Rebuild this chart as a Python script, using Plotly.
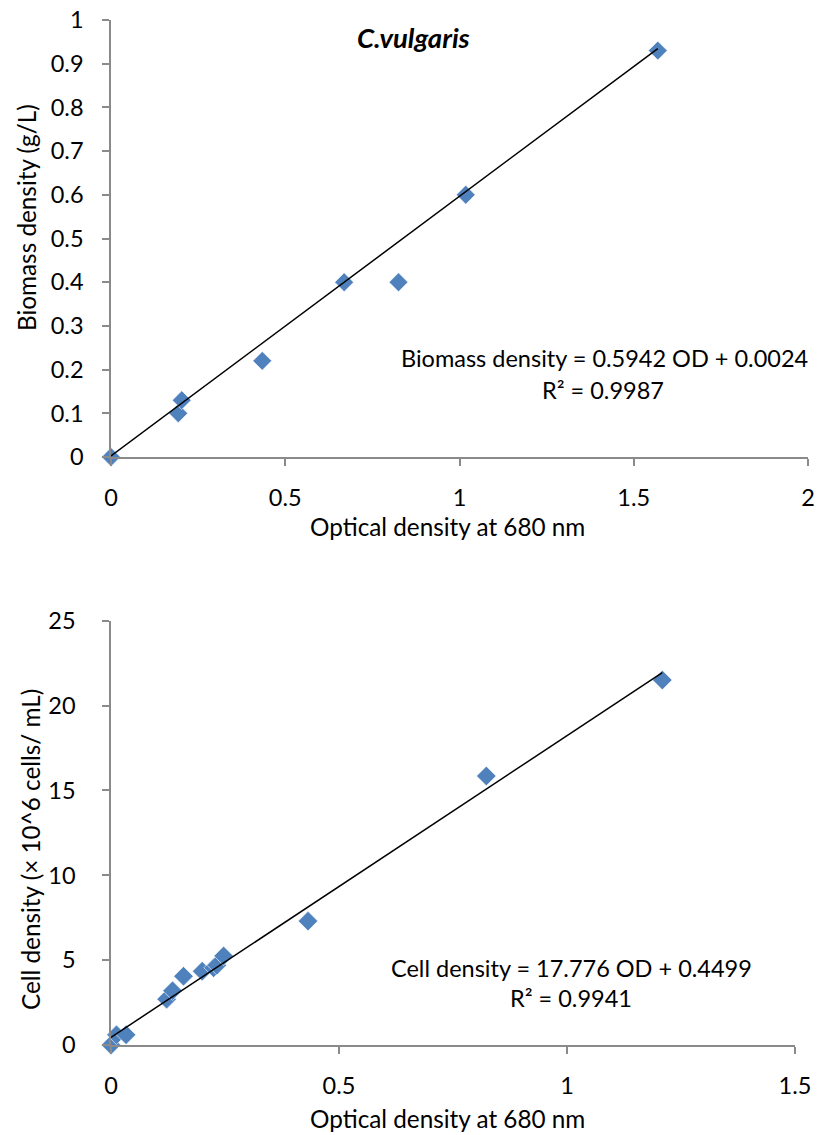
import plotly.graph_objects as go

# Biomass calibration (top panel)
od_biomass = [0, 0.193, 0.203, 0.434, 0.669, 0.825, 1.018, 1.569]
biomass = [0, 0.10, 0.13, 0.22, 0.40, 0.40, 0.60, 0.93]
biomass_slope, biomass_intercept = 0.5942, 0.0024
biomass_r2 = 0.9987

# Cell count calibration (bottom panel)
od_cells = [0, 0.012, 0.033, 0.122, 0.135, 0.159, 0.200, 0.225, 0.232, 0.247, 0.432, 0.823, 1.209]
cells = [0, 0.6, 0.6, 2.7, 3.2, 4.05, 4.35, 4.55, 4.7, 5.25, 7.3, 15.85, 21.5]
cells_slope, cells_intercept = 17.776, 0.4499
cells_r2 = 0.9941

W, H = 817, 1135
FONT = "Lato"
MARKER = "#4F81BD"
AXIS = "#8a8a8a"


def px(x):
    return x / W


def py(y):
    return 1 - y / H


fig = go.Figure()

# data points
fig.add_trace(go.Scatter(x=od_biomass, y=biomass, mode="markers",
                         marker=dict(symbol="diamond", size=14.5, color=MARKER,
                                     line=dict(width=0.6, color="white")),
                         cliponaxis=False, xaxis="x", yaxis="y"))
fig.add_trace(go.Scatter(x=od_cells, y=cells, mode="markers",
                         marker=dict(symbol="diamond", size=15, color=MARKER,
                                     line=dict(width=0.6, color="white")),
                         cliponaxis=False, xaxis="x2", yaxis="y2"))

# linear trendlines over the data range
bx = [min(od_biomass), max(od_biomass)]
fig.add_trace(go.Scatter(x=bx, y=[biomass_slope * v + biomass_intercept for v in bx],
                         mode="lines", line=dict(color="black", width=1.5),
                         cliponaxis=False, xaxis="x", yaxis="y"))
cx = [min(od_cells), max(od_cells)]
fig.add_trace(go.Scatter(x=cx, y=[cells_slope * v + cells_intercept for v in cx],
                         mode="lines", line=dict(color="black", width=1.5),
                         cliponaxis=False, xaxis="x2", yaxis="y2"))

FS = 23.5
tickfont = dict(family=FONT, size=FS, color="black")
axis_common = dict(showline=True, linecolor=AXIS, linewidth=1.5, ticks="outside",
                   ticklen=7, tickcolor=AXIS, tickwidth=1.5, showgrid=False,
                   zeroline=False, tickfont=tickfont, fixedrange=True,
                   automargin=False)

fig.update_layout(
    width=W, height=H,
    margin=dict(l=0, r=0, t=0, b=0, autoexpand=False),
    paper_bgcolor="white", plot_bgcolor="white",
    showlegend=False,
    font=dict(family=FONT, color="black"),
    xaxis=dict(domain=[px(111), px(808)], range=[0, 2], dtick=0.5, anchor="y",
               ticklabelstandoff=12, **axis_common),
    yaxis=dict(domain=[py(457), py(20)], range=[0, 1], dtick=0.1, anchor="x",
               ticklabelstandoff=14, **axis_common),
    xaxis2=dict(domain=[px(111), px(795)], range=[0, 1.5], dtick=0.5, anchor="y2",
                ticklabelstandoff=12, **axis_common),
    yaxis2=dict(domain=[py(1045), py(620.7)], range=[0, 25], dtick=5, anchor="x2",
                ticklabelstandoff=22, **axis_common),
)

label_font = dict(family=FONT, size=FS, color="black")
title_font = dict(family=FONT, size=24.3, color="black")
annotations = [
    dict(text="<b><i>C.vulgaris</i></b>", x=px(413), y=py(38),
         font=dict(family=FONT, size=27.5, color="black")),
    dict(text="Optical density at 680 nm", x=px(448), y=py(526), font=title_font),
    dict(text="Biomass density (g/L)", x=px(27), y=py(218), textangle=-90, font=title_font),
    dict(text=f"Biomass density = {biomass_slope} OD + {biomass_intercept}",
         x=px(604), y=py(358), font=label_font),
    dict(text=f"R² = {biomass_r2}", x=px(603), y=py(390), font=label_font),
    dict(text="Optical density at 680 nm", x=px(448), y=py(1118), font=title_font),
    dict(text="Cell density (× 10^6 cells/ mL)", x=px(30), y=py(850), textangle=-90,
         font=title_font),
    dict(text=f"Cell density = {cells_slope} OD + {cells_intercept}",
         x=px(571), y=py(968), font=label_font),
    dict(text=f"R² = {cells_r2}", x=px(571), y=py(998), font=label_font),
]
for a in annotations:
    a.update(xref="paper", yref="paper", showarrow=False, xanchor="center", yanchor="middle")
fig.update_layout(annotations=annotations)

fig.write_html("out.html")
